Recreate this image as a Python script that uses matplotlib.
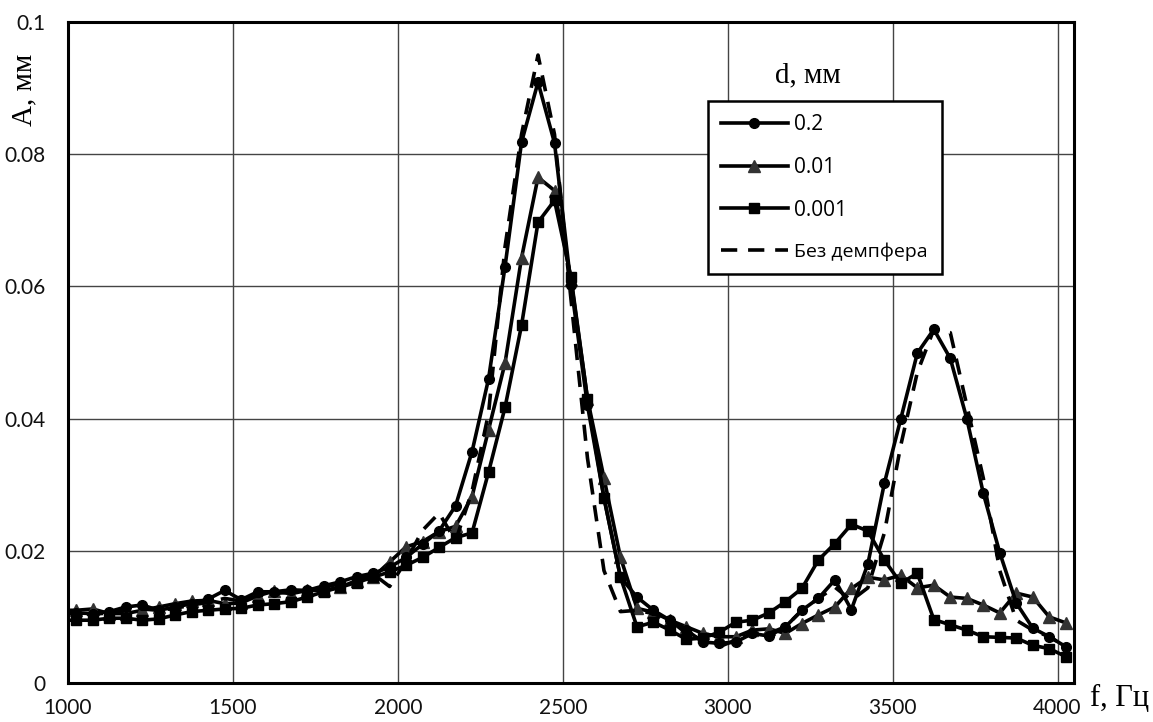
import matplotlib
matplotlib.use("Agg")
import matplotlib.pyplot as plt
import numpy as np

# frequencies, Hz (50 Hz step)
freq = [975 + 50 * i for i in range(62)]

# d = 0.2 mm (circles)
a_02 = [0.0110, 0.0106, 0.0105, 0.0108, 0.0115, 0.0118, 0.0110, 0.0115, 0.0120, 0.0127,
        0.0140, 0.0126, 0.0138, 0.0138, 0.0141, 0.0140, 0.0147, 0.0153, 0.0161, 0.0166,
        0.0175, 0.0190, 0.0210, 0.0230, 0.0268, 0.0350, 0.0460, 0.0630, 0.0818, 0.0909,
        0.0817, 0.0602, 0.0420, 0.0280, 0.0160, 0.0130, 0.0110, 0.0095, 0.0080, 0.0062,
        0.0060, 0.0062, 0.0075, 0.0071, 0.0085, 0.0110, 0.0128, 0.0156, 0.0111, 0.0180,
        0.0302, 0.0400, 0.0499, 0.0535, 0.0491, 0.0400, 0.0287, 0.0197, 0.0121, 0.0083,
        0.0070, 0.0055]

# d = 0.01 mm (triangles)
a_001 = [0.0110, 0.0110, 0.0112, 0.0105, 0.0105, 0.0110, 0.0115, 0.0120, 0.0124, 0.0125,
         0.0120, 0.0121, 0.0132, 0.0139, 0.0135, 0.0140, 0.0140, 0.0145, 0.0155, 0.0160,
         0.0183, 0.0206, 0.0214, 0.0229, 0.0237, 0.0282, 0.0383, 0.0484, 0.0643, 0.0765,
         0.0745, 0.0610, 0.0430, 0.0310, 0.0190, 0.0113, 0.0107, 0.0095, 0.0085, 0.0075,
         0.0070, 0.0070, 0.0080, 0.0082, 0.0075, 0.0090, 0.0103, 0.0115, 0.0143, 0.0160,
         0.0156, 0.0163, 0.0144, 0.0148, 0.0130, 0.0128, 0.0118, 0.0106, 0.0136, 0.0130,
         0.0100, 0.0091]

# d = 0.001 mm (squares)
a_0001 = [0.0095, 0.0095, 0.0095, 0.0098, 0.0098, 0.0095, 0.0097, 0.0103, 0.0108, 0.0110,
          0.0112, 0.0113, 0.0118, 0.0120, 0.0123, 0.0130, 0.0138, 0.0145, 0.0152, 0.0160,
          0.0168, 0.0178, 0.0190, 0.0205, 0.0220, 0.0227, 0.0319, 0.0417, 0.0541, 0.0697,
          0.0730, 0.0614, 0.0430, 0.0280, 0.0160, 0.0085, 0.0092, 0.0080, 0.0066, 0.0068,
          0.0077, 0.0092, 0.0095, 0.0106, 0.0123, 0.0143, 0.0186, 0.0211, 0.0240, 0.0230,
          0.0186, 0.0151, 0.0166, 0.0096, 0.0088, 0.0080, 0.0070, 0.0069, 0.0068, 0.0057,
          0.0052, 0.0040]

# without damper (dashed)
a_none = [0.0105, 0.0105, 0.0104, 0.0106, 0.0110, 0.0112, 0.0110, 0.0113, 0.0118, 0.0122,
          0.0128, 0.0124, 0.0132, 0.0135, 0.0138, 0.0140, 0.0145, 0.0150, 0.0158, 0.0165,
          0.0146, 0.0185, 0.0231, 0.0257, 0.0215, 0.0290, 0.0408, 0.0660, 0.0830, 0.0950,
          0.0830, 0.0580, 0.0340, 0.0170, 0.0108, 0.0110, 0.0105, 0.0095, 0.0075, 0.0065,
          0.0055, 0.0065, 0.0075, 0.0075, 0.0085, 0.0110, 0.0128, 0.0145, 0.0125, 0.0144,
          0.0227, 0.0360, 0.0470, 0.0535, 0.0530, 0.0420, 0.0310, 0.0170, 0.0095, 0.0080,
          0.0070, 0.0055]

x_ticks = [1000, 1500, 2000, 2500, 3000, 3500, 4000]
y_ticks = [0, 0.02, 0.04, 0.06, 0.08, 0.1]
y_tick_labels = ["0", "0.02", "0.04", "0.06", "0.08", "0.1"]
labels = ["0.2", "0.01", "0.001", "Без демпфера"]

fig = plt.figure(figsize=(11.53, 7.22), dpi=100)
ax = fig.add_axes([68 / 1153, 39 / 722, (1074 - 68) / 1153, (683 - 22) / 722])

tick_font = "Lato"
serif = "Liberation Serif"

lw = 2.6
ax.plot(freq, a_02, color="black", lw=lw, marker="o", ms=7, label=labels[0], zorder=4)
ax.plot(freq, a_001, color="black", lw=lw, marker="^", ms=8, mfc="#333333", mec="#333333",
        label=labels[1], zorder=3)
ax.plot(freq, a_0001, color="black", lw=lw, marker="s", ms=6.5, label=labels[2], zorder=3)
ax.plot(freq, a_none, color="black", lw=2.6, ls=(0, (4.5, 3)), label=labels[3], zorder=5)

ax.set_xlim(1000, 4050)
ax.set_ylim(0, 0.1)
ax.set_xticks(x_ticks)
ax.set_yticks(y_ticks)
ax.set_yticklabels(y_tick_labels)
ax.tick_params(length=0, labelsize=15)
for t in ax.get_xticklabels() + ax.get_yticklabels():
    t.set_fontfamily(tick_font)
    t.set_color("#111111")
ax.tick_params(axis="x", pad=11)
ax.tick_params(axis="y", pad=16)
ax.grid(True, color="#444444", lw=1.0)
ax.set_axisbelow(True)
for s in ax.spines.values():
    s.set_linewidth(2.2)
    s.set_color("black")

fig.text(1120 / 1153, 1 - 698 / 722, "f, Гц", family=serif, fontsize=22,
         ha="center", va="center")
fig.text(24 / 1153, 1 - 90 / 722, "A, мм", family=serif, fontsize=21,
         rotation=90, ha="center", va="center")
fig.text(808 / 1153, 1 - 75 / 722, "d, мм", family=serif, fontsize=21,
         ha="center", va="center")

leg = ax.legend(loc="upper left", bbox_to_anchor=(708 / 1153, 1 - 271 / 722, 234 / 1153, 170 / 722),
                bbox_transform=fig.transFigure, mode="expand", fancybox=False,
                borderaxespad=0, framealpha=1, edgecolor="black", handlelength=3.2,
                handletextpad=0.3, labelspacing=1.05, borderpad=0.62,
                prop={"family": "Open Sans", "size": 15})
leg.get_frame().set_linewidth(1.8)
leg.get_texts()[3].set_fontsize(14)

fig.savefig("out.png", dpi=100, facecolor="white")
